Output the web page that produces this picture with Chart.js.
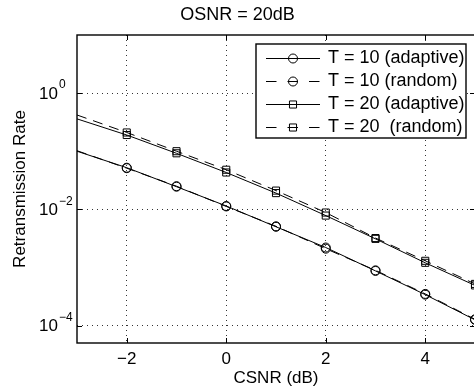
<!DOCTYPE html>
<html>
<head>
<meta charset="utf-8">
<script src="https://cdn.jsdelivr.net/npm/chart.js@4.4.0/dist/chart.umd.min.js"></script>
<style>
  html, body { margin: 0; padding: 0; background: #fff; overflow: hidden; }
  #wrap { width: 474px; height: 392px; overflow: hidden; }
</style>
</head>
<body>
<div id="wrap"><canvas id="chart" width="476" height="392"></canvas></div>
<script>
// --- DATA ---
const csnr = [-3, -2, -1, 0, 1, 2, 3, 4, 5];
const t10Adaptive = [0.100, 0.052, 0.0245, 0.0114, 0.0050, 0.0022, 0.00087, 0.00034, 0.000125];
const t10Random   = [0.102, 0.051, 0.0250, 0.0112, 0.0051, 0.0021, 0.00089, 0.00035, 0.000128];
const t20Adaptive = [0.36, 0.19, 0.092, 0.043, 0.019, 0.0078, 0.0031, 0.0012, 0.00049];
const t20Random   = [0.42, 0.21, 0.100, 0.048, 0.021, 0.0088, 0.0032, 0.0013, 0.00052];

const xTicks = [-2, 0, 2, 4];
const yTicks = [1e-4, 1e-2, 1];
const yTickExp = ['\u22124', '\u22122', '0'];

const FONT = "'Liberation Sans', Arial, Helvetica, sans-serif";

// pas de marqueur sur le premier point (bord gauche)
const markerRadius = csnr.map(v => v === -3 ? 0 : 4.5);

function series(label, data, style, dashed) {
    return {
        label: label,
        data: csnr.map((x, i) => ({ x: x, y: data[i] })),
        borderColor: '#000',
        backgroundColor: 'rgba(0,0,0,0)',
        borderWidth: 1,
        borderDash: dashed ? [10, 7] : [],
        pointStyle: style,
        pointRadius: style === 'rect' ? markerRadius.map(r => r ? 5 : 0) : markerRadius,
        pointBorderColor: '#000',
        pointBackgroundColor: 'rgba(0,0,0,0)',
        pointBorderWidth: 1,
        tension: 0
    };
}

// --- CADRE, TICKS INTERNES, LABELS Y, LEGENDE ---
const matlabFrame = {
    id: 'matlabFrame',
    afterDraw(chart) {
        const { ctx, chartArea: a, scales: { x, y } } = chart;
        ctx.save();
        ctx.strokeStyle = '#000';
        ctx.lineWidth = 1.4;
        ctx.strokeRect(a.left, a.top, a.right - a.left, a.bottom - a.top);

        ctx.lineWidth = 1;
        ctx.beginPath();
        xTicks.forEach(v => {
            const px = Math.round(x.getPixelForValue(v)) + 0.5;
            ctx.moveTo(px, a.bottom); ctx.lineTo(px, a.bottom - 5);
            ctx.moveTo(px, a.top); ctx.lineTo(px, a.top + 5);
        });
        yTicks.forEach(v => {
            const py = Math.round(y.getPixelForValue(v)) + 0.5;
            ctx.moveTo(a.left, py); ctx.lineTo(a.left + 5, py);
            ctx.moveTo(a.right, py); ctx.lineTo(a.right - 5, py);
        });
        ctx.stroke();

        // labels 10^n
        ctx.fillStyle = '#000';
        ctx.textBaseline = 'middle';
        ctx.textAlign = 'left';
        yTicks.forEach((v, i) => {
            const py = y.getPixelForValue(v);
            ctx.font = '17px ' + FONT;
            ctx.fillText('10', 39, py + 1);
            const w = ctx.measureText('10').width;
            ctx.font = '12px ' + FONT;
            ctx.fillText(yTickExp[i], 39 + w + 1, py - 8);
        });

        // legende
        const box = { left: 256, top: 44, right: 466, bottom: 138 };
        ctx.fillStyle = '#fff';
        ctx.fillRect(box.left, box.top, box.right - box.left, box.bottom - box.top);
        ctx.lineWidth = 1.4;
        ctx.strokeRect(box.left, box.top, box.right - box.left, box.bottom - box.top);
        chart.data.datasets.forEach((ds, i) => {
            const ly = box.top + 13.5 + i * 23;
            ctx.lineWidth = 1;
            ctx.strokeStyle = '#000';
            ctx.beginPath();
            if (ds.borderDash.length) {
                ctx.setLineDash([10.5, 11]);
            } else {
                ctx.setLineDash([]);
            }
            ctx.moveTo(266, Math.round(ly) + 0.5);
            ctx.lineTo(320, Math.round(ly) + 0.5);
            ctx.stroke();
            ctx.setLineDash([]);
            ctx.fillStyle = 'rgba(0,0,0,0)';
            Chart.helpers.drawPoint(ctx, {
                pointStyle: ds.pointStyle,
                radius: ds.pointStyle === 'rect' ? 5 : 4.5,
                rotation: 0,
                borderWidth: 1
            }, 293, Math.round(ly) + 0.5);
            ctx.fillStyle = '#000';
            ctx.font = '18px ' + FONT;
            ctx.textAlign = 'left';
            ctx.textBaseline = 'middle';
            ctx.fillText(ds.label, 328, ly + 1);
        });
        ctx.restore();
    }
};

new Chart(document.getElementById('chart'), {
    type: 'line',
    data: {
        datasets: [
            series('T = 10 (adaptive)', t10Adaptive, 'circle', false),
            series('T = 10 (random)', t10Random, 'circle', true),
            series('T = 20 (adaptive)', t20Adaptive, 'rect', false),
            series('T = 20  (random)', t20Random, 'rect', true)
        ]
    },
    options: {
        responsive: false,
        animation: false,
        layout: { autoPadding: false, padding: { left: 0, right: 1, top: 0, bottom: 0 } },
        plugins: {
            legend: { display: false },
            tooltip: { enabled: false },
            title: {
                display: true,
                text: 'OSNR = 20dB',
                color: '#000',
                font: { family: FONT, size: 18, weight: 'normal' },
                padding: { top: 4, bottom: 9.4 }
            }
        },
        scales: {
            x: {
                type: 'linear',
                min: -3,
                max: 5,
                afterBuildTicks: scale => { scale.ticks = xTicks.map(v => ({ value: v })); },
                afterFit: scale => { scale.height = 49; },
                ticks: {
                    color: '#000',
                    padding: 6,
                    font: { family: FONT, size: 17 },
                    callback: v => v < 0 ? '\u2212' + Math.abs(v) : String(v)
                },
                grid: { color: '#333', lineWidth: 1, drawTicks: false },
                border: { display: false, dash: [1, 4] },
                title: {
                    display: true,
                    text: 'CSNR (dB)',
                    color: '#000',
                    font: { family: FONT, size: 17 },
                    padding: { top: 0, bottom: 3 }
                }
            },
            y: {
                type: 'logarithmic',
                min: 5e-5,
                max: 10,
                afterBuildTicks: scale => { scale.ticks = yTicks.map(v => ({ value: v })); },
                afterFit: scale => { scale.width = 77; },
                ticks: { display: false },
                grid: { color: '#333', lineWidth: 1, drawTicks: false },
                border: { display: false, dash: [1, 4] },
                title: {
                    display: true,
                    text: 'Retransmission Rate',
                    color: '#000',
                    font: { family: FONT, size: 17 },
                    padding: { top: 10, bottom: 0 }
                }
            }
        }
    },
    plugins: [matlabFrame]
});
</script>
</body>
</html>
